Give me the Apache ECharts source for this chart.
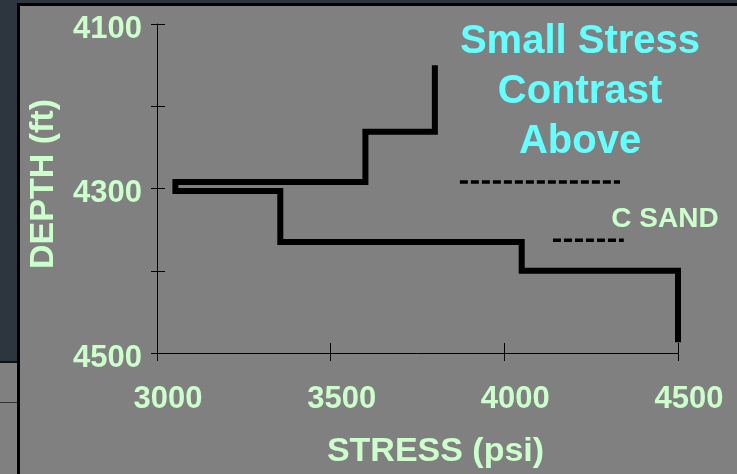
<!DOCTYPE html>
<html>
<head>
<meta charset="utf-8">
<script src="https://cdn.jsdelivr.net/npm/echarts/dist/echarts.min.js"></script>
<style>
  html, body { margin: 0; padding: 0; background: #2d353e; }
  #chart { width: 737px; height: 474px; }
</style>
</head>
<body>
<div id="chart"></div>
<script>
// stress profile (step curve)
const stressPsi = [3800, 3800, 3600, 3600, 3053, 3053, 3355, 3355, 4050, 4050, 4500, 4500];
const depthFt = [4150, 4231, 4231, 4292, 4292, 4303, 4303, 4365, 4365, 4400, 4400, 4487];

// dashed markers of the C sand
const upperDashStress = [3872, 4333];
const upperDashDepth = [4292, 4292];
const lowerDashStress = [4140, 4344];
const lowerDashDepth = [4363, 4363];

const xTicks = [3000, 3500, 4000, 4500];
const yTicks = [4100, 4200, 4300, 4400, 4500];
const yLabels = [4100, 4300, 4500];

const green = '#ccffcc';
const cyan = '#66ffff';
const font = "'Liberation Sans', Arial, sans-serif";

const pairs = (xs, ys) => xs.map((x, i) => [x, ys[i]]);

const chart = echarts.init(document.getElementById('chart'));

const option = {
  backgroundColor: '#808080',
  animation: false,
  grid: { left: 157, right: 59, top: 24, bottom: 121 },
  xAxis: [
    {
      type: 'value',
      position: 'bottom',
      min: xTicks[0],
      max: xTicks[xTicks.length - 1],
      interval: 500,
      splitLine: { show: false },
      axisLine: { lineStyle: { color: '#000', width: 1 } },
      axisTick: { length: 8, lineStyle: { color: '#000' } },
      axisLabel: {
        color: green, fontFamily: font, fontWeight: 'bold', fontSize: 31,
        margin: 31, padding: [0, 0, 0, 22],
        showMinLabel: true, showMaxLabel: true,
        formatter: v => String(v)
      },
      name: 'STRESS (psi)',
      nameLocation: 'middle',
      nameGap: 82,
      nameTextStyle: {
        color: green, fontFamily: font, fontWeight: 'bold', fontSize: 34,
        padding: [0, 0, 0, 36]
      }
    },
    {
      // inner half of the crossing ticks
      type: 'value',
      position: 'bottom',
      min: xTicks[0],
      max: xTicks[xTicks.length - 1],
      interval: 500,
      splitLine: { show: false },
      axisLine: { show: false },
      axisTick: { inside: true, length: 10, lineStyle: { color: '#000' } },
      axisLabel: { show: false }
    }
  ],
  yAxis: [
    {
      type: 'value',
      position: 'left',
      inverse: true,
      min: yTicks[0],
      max: yTicks[yTicks.length - 1],
      interval: 100,
      splitLine: { show: false },
      axisLine: { lineStyle: { color: '#000', width: 1 } },
      axisTick: { length: 6, lineStyle: { color: '#000' } },
      axisLabel: {
        margin: 15,
        showMinLabel: true, showMaxLabel: true,
        formatter: v => (yLabels.includes(v) ? '{d|' + v + '}' : ''),
        rich: {
          d: {
            color: green, fontFamily: font, fontWeight: 'bold', fontSize: 31,
            padding: [10, 0, 0, 0]
          }
        }
      },
      name: 'DEPTH (ft)',
      nameLocation: 'middle',
      nameGap: 96,
      nameTextStyle: {
        color: green, fontFamily: font, fontWeight: 'bold', fontSize: 34,
        padding: [0, 0, 0, 9]
      }
    },
    {
      type: 'value',
      position: 'left',
      inverse: true,
      min: yTicks[0],
      max: yTicks[yTicks.length - 1],
      interval: 100,
      splitLine: { show: false },
      axisLine: { show: false },
      axisTick: { inside: true, length: 8, lineStyle: { color: '#000' } },
      axisLabel: { show: false }
    }
  ],
  graphic: [
    // frame around the slide area
    { type: 'rect', shape: { x: 0, y: 0, width: 17, height: 361 }, style: { fill: '#2d353e' }, silent: true },
    { type: 'rect', shape: { x: 0, y: 0, width: 737, height: 3 }, style: { fill: '#2d353e' }, silent: true },
    { type: 'rect', shape: { x: 0, y: 361, width: 17, height: 2 }, style: { fill: '#111' }, silent: true },
    { type: 'rect', shape: { x: 0, y: 402, width: 17, height: 1 }, style: { fill: '#333' }, silent: true },
    { type: 'rect', shape: { x: 17, y: 3, width: 3, height: 471 }, style: { fill: '#000' }, silent: true },
    { type: 'rect', shape: { x: 17, y: 3, width: 720, height: 3 }, style: { fill: '#000' }, silent: true },
    {
      type: 'text', x: 580, y: 17, silent: true,
      style: {
        text: 'Small Stress\nContrast\nAbove',
        fill: cyan, font: 'bold 40px ' + font,
        align: 'center', verticalAlign: 'top', lineHeight: 50
      }
    },
    {
      type: 'text', x: 665, y: 219, silent: true,
      style: {
        text: 'C SAND',
        fill: green, font: 'bold 28px ' + font,
        align: 'center', verticalAlign: 'middle'
      }
    }
  ],
  series: [
    {
      type: 'line',
      data: pairs(upperDashStress, upperDashDepth),
      symbol: 'none',
      clip: false,
      lineStyle: { color: '#000', width: 3.5, type: [8, 3] }
    },
    {
      type: 'line',
      data: pairs(lowerDashStress, lowerDashDepth),
      symbol: 'none',
      clip: false,
      lineStyle: { color: '#000', width: 3.5, type: [8, 3] }
    },
    {
      type: 'line',
      data: pairs(stressPsi, depthFt),
      symbol: 'none',
      clip: false,
      lineStyle: { color: '#000', width: 6, join: 'miter' }
    }
  ]
};

chart.setOption(option);
</script>
</body>
</html>
